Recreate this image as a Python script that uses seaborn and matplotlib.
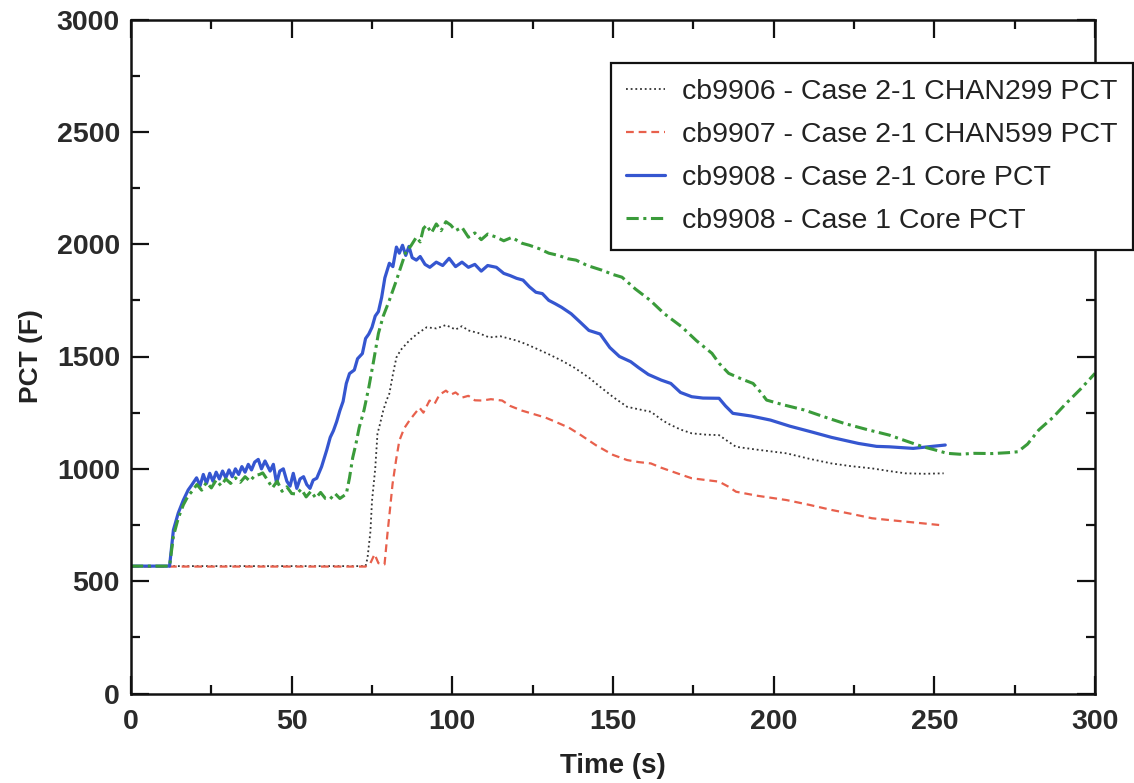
import matplotlib
matplotlib.use("Agg")
import matplotlib.pyplot as plt
from matplotlib.ticker import MultipleLocator
import seaborn as sns

# cb9906 - Case 2-1 CHAN299 PCT
chan299_t = [0, 73, 73.6, 74.5, 75, 76, 76.7, 77.5, 78.5, 79.5, 80.4, 81.5, 82.6, 84, 86.6, 89, 92, 95,
             98, 101, 103, 105, 108, 111.5, 115, 120, 123, 126, 130, 134, 138, 142.5, 146, 150, 154.4,
             158, 161.8, 165, 167, 171, 174.5, 179, 183, 186, 188.3, 195, 204, 211, 218, 224, 230.6,
             236, 241, 247, 252.9]
chan299_v = [567, 567, 603, 720, 857, 1000, 1156, 1200, 1260, 1304, 1335, 1420, 1496, 1530, 1571, 1600,
             1630, 1625, 1640, 1620, 1635, 1616, 1605, 1585, 1590, 1571, 1555, 1536, 1510, 1482, 1450,
             1406, 1365, 1320, 1276, 1265, 1254, 1220, 1202, 1175, 1158, 1152, 1150, 1120, 1098, 1085,
             1069, 1045, 1024, 1012, 1002, 990, 980, 978, 980]

# cb9907 - Case 2-1 CHAN599 PCT
chan599_t = [0, 73, 74.5, 75.8, 77, 78.9, 79.8, 80.6, 81.4, 82.5, 83.5, 85, 86.6, 88, 89.8, 91, 92.9,
             94.5, 96, 98, 99.5, 101, 103, 105, 107, 109.3, 112, 115.5, 118, 121.7, 125, 129, 132,
             136.3, 140, 144.7, 150, 154.4, 158, 161.8, 165, 167, 171, 174.5, 179, 183, 186, 188.3,
             195, 204, 211, 218, 224, 230.6, 236, 241, 246, 251.5]
chan599_v = [565, 565, 580, 620, 580, 575, 710, 820, 933, 1040, 1125, 1180, 1214, 1240, 1272, 1250,
             1304, 1290, 1330, 1348, 1330, 1340, 1317, 1325, 1305, 1304, 1310, 1304, 1280, 1259, 1245,
             1228, 1210, 1183, 1150, 1105, 1062, 1039, 1030, 1024, 1005, 995, 975, 958, 950, 943, 920,
             898, 880, 861, 840, 817, 800, 780, 772, 765, 758, 750]

# cb9908 - Case 2-1 Core PCT
core21_t = [0, 12, 13.2, 14.7, 16.3, 17.8, 18.9, 20.4, 21.5, 22.5, 23.5, 24.5, 25.5, 26.5, 27.5, 28.5,
            29.5, 30.5, 31.5, 32.5, 33.5, 34.5, 35.5, 36.5, 37.5, 38.5, 39.6, 40.6, 41.7, 43.3, 44.3,
            45.3, 46.3, 47.4, 48.5, 49.5, 50.5, 51.6, 52.6, 53.7, 54.7, 55.7, 56.7, 57.8, 59.3, 60.9,
            62, 63, 64, 65, 66, 67, 68, 69.5, 70.5, 72, 73, 74, 75, 76, 77, 78, 79, 80.4, 81.5, 82.6,
            83.5, 84.5, 85.5, 86.5, 87.5, 88.8, 90, 91.5, 93, 95, 97, 99, 101, 103, 105, 107, 109, 111,
            113.7, 116, 118, 120, 122, 124, 126, 128, 130, 132, 134, 137, 140, 142.5, 146, 149, 152,
            155.5, 158, 161, 165, 168, 171, 174.5, 178, 183, 185, 187.3, 193, 199, 205, 211.6, 218,
            226.4, 232, 236, 243.4, 248, 253.4]
core21_v = [567, 567, 728, 803, 861, 906, 928, 960, 925, 975, 935, 980, 945, 985, 955, 990, 960, 995,
            965, 1000, 975, 1010, 985, 1020, 995, 1030, 1042, 1000, 1035, 990, 1020, 936, 990, 1000,
            945, 923, 980, 913, 955, 965, 930, 913, 950, 958, 1009, 1083, 1140, 1170, 1210, 1259, 1300,
            1380, 1424, 1440, 1490, 1513, 1580, 1600, 1630, 1680, 1700, 1763, 1850, 1915, 1900, 1987,
            1960, 1995, 1950, 1990, 1940, 1929, 1945, 1910, 1897, 1920, 1905, 1937, 1900, 1920, 1897,
            1910, 1880, 1905, 1897, 1870, 1860, 1848, 1840, 1810, 1786, 1780, 1750, 1735, 1719, 1690,
            1650, 1616, 1600, 1540, 1500, 1477, 1450, 1420, 1395, 1380, 1340, 1321, 1315, 1314, 1280,
            1247, 1235, 1217, 1190, 1165, 1140, 1113, 1100, 1098, 1091, 1098, 1106]

# cb9908 - Case 1 Core PCT
core1_t = [0, 12, 13.2, 14.7, 16.3, 17.8, 19, 20.5, 22, 23.5, 25, 26.5, 28, 29.5, 31, 32.5, 34, 35.5,
           37, 38.5, 40, 41, 42.5, 44, 45.5, 47, 48.5, 50, 51.5, 53, 54.5, 56, 57.5, 59, 60.5, 62,
           63.5, 65, 67, 68, 69, 70, 71, 72.5, 74, 75.5, 77, 78.5, 80.4, 82.6, 84, 85.7, 87, 88.8, 90,
           91, 92, 93.5, 95, 96.5, 98, 99.5, 101, 103, 105, 107, 109, 111, 113.7, 116, 118.5, 121.7,
           124, 127, 130, 133, 136, 138.5, 142, 146.6, 150, 152.8, 157, 161.5, 166, 171.4, 176, 180.8,
           183, 186, 190, 193.6, 196, 197.8, 203, 209.5, 216, 222, 229, 236, 241, 246.5, 250, 254,
           258, 262.4, 268, 273, 276, 279, 282.5, 287, 291, 295.5, 300]
core1_v = [567, 567, 700, 780, 840, 880, 900, 930, 905, 940, 915, 950, 925, 955, 935, 960, 940, 965,
           945, 970, 975, 982, 950, 915, 945, 900, 920, 890, 888, 910, 875, 900, 870, 895, 868, 866,
           890, 868, 888, 960, 1050, 1111, 1183, 1260, 1362, 1480, 1603, 1680, 1750, 1839, 1900, 1973,
           1990, 2031, 2010, 2070, 2085, 2050, 2090, 2060, 2100, 2085, 2060, 2075, 2031, 2050, 2020,
           2045, 2031, 2015, 2030, 2004, 1995, 1980, 1960, 1950, 1935, 1929, 1905, 1884, 1865, 1853,
           1800, 1751, 1690, 1632, 1570, 1514, 1470, 1425, 1400, 1380, 1340, 1306, 1285, 1262, 1230,
           1202, 1175, 1150, 1125, 1098, 1085, 1069, 1065, 1069, 1068, 1072, 1076, 1110, 1173, 1230,
           1291, 1355, 1425]

labels = [
    "cb9906 - Case 2-1 CHAN299 PCT",
    "cb9907 - Case 2-1 CHAN599 PCT",
    "cb9908 - Case 2-1 Core PCT",
    "cb9908 - Case 1 Core PCT",
]

sns.set_theme(style="ticks")
plt.rcParams["font.family"] = ["Liberation Sans", "DejaVu Sans"]

fig = plt.figure(figsize=(11.34, 7.83), dpi=100)
ax = fig.add_axes([131 / 1134, 1 - 693.5 / 783, (1095 - 131) / 1134, (693.5 - 19.5) / 783])

sns.lineplot(x=chan299_t, y=chan299_v, ax=ax, color="#333333", linewidth=1.3,
             linestyle=(0, (1, 1.6)), label=labels[0], estimator=None, sort=False)
sns.lineplot(x=chan599_t, y=chan599_v, ax=ax, color="#e8604c", linewidth=1.6,
             linestyle=(0, (3.5, 2.2)), label=labels[1], estimator=None, sort=False)
sns.lineplot(x=core21_t, y=core21_v, ax=ax, color="#3556d0", linewidth=2.3,
             label=labels[2], estimator=None, sort=False)
sns.lineplot(x=core1_t, y=core1_v, ax=ax, color="#3a9b3a", linewidth=2.2,
             linestyle=(0, (4, 1.5, 1, 1.5)), label=labels[3], estimator=None, sort=False)

ax.set_xlim(0, 300)
ax.set_ylim(0, 3000)
ax.xaxis.set_major_locator(MultipleLocator(50))
ax.xaxis.set_minor_locator(MultipleLocator(25))
ax.yaxis.set_major_locator(MultipleLocator(500))
ax.yaxis.set_minor_locator(MultipleLocator(250))
ax.tick_params(which="both", direction="in", top=True, right=True, width=1.6, color="#111111")
ax.tick_params(which="major", length=13, labelsize=20.5, pad=8)
ax.tick_params(axis="x", which="major", pad=11)
ax.tick_params(which="minor", length=6.5)
for lab in ax.get_xticklabels() + ax.get_yticklabels():
    lab.set_fontweight("bold")
    lab.set_color("#2a2a2a")
for sp in ax.spines.values():
    sp.set_linewidth(1.8)
    sp.set_color("#111111")

ax.set_xlabel("Time (s)", fontsize=20, fontweight="bold", color="#222222", labelpad=13)
ax.set_ylabel("PCT (F)", fontsize=19, fontweight="bold", color="#222222", labelpad=10)

leg = ax.legend(loc="upper right", bbox_to_anchor=(1133 / 1134, 1 - 63 / 783),
                bbox_transform=fig.transFigure, fontsize=20.5, frameon=True, fancybox=False,
                framealpha=1, edgecolor="#111111", handlelength=1.35, handletextpad=0.6,
                labelspacing=0.6, borderpad=0.55, borderaxespad=0)
leg.get_frame().set_linewidth(1.6)
for t in leg.get_texts():
    t.set_color("#222222")

fig.savefig("out.png", dpi=100)
plt.close(fig)
